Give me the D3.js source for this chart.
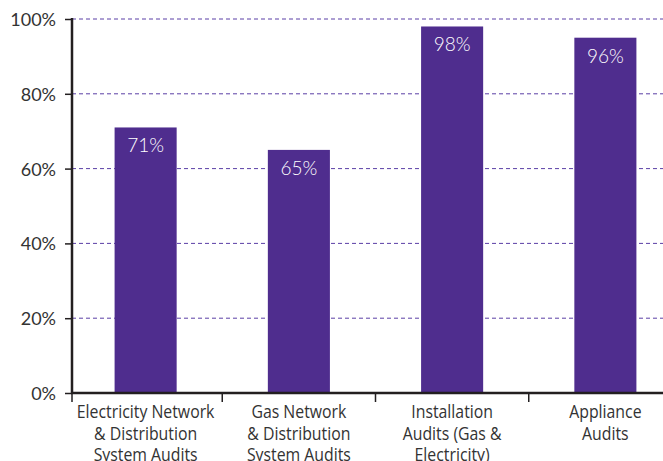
<!DOCTYPE html>
<html>
<head>
<meta charset="utf-8">
<script src="https://cdn.jsdelivr.net/npm/d3@7"></script>
<style>
  body { margin: 0; background: #fff; }
  svg { display: block; }
</style>
</head>
<body>
<div id="chart"></div>
<script>
// data
var categories = [
  ["Electricity Network", "& Distribution", "System Audits"],
  ["Gas Network", "& Distribution", "System Audits"],
  ["Installation", "Audits (Gas &", "Electricity)"],
  ["Appliance", "Audits"]
];
var values = [71, 65, 98, 95];
var valueLabels = ["71%", "65%", "98%", "96%"];
var yTicks = [0, 20, 40, 60, 80, 100];

var W = 663, H = 461;
var axisX = 72, baseY = 393, topY = 19;

var svg = d3.select("#chart").append("svg")
  .attr("width", W)
  .attr("height", H);

var x = d3.scaleBand()
  .domain(d3.range(categories.length))
  .range([69, 682])
  .paddingInner(0.595)
  .paddingOuter(0.2975);

var y = d3.scaleLinear()
  .domain([0, 100])
  .range([baseY, topY]);

// gridlines
svg.append("g")
  .selectAll("line")
  .data(yTicks.filter(d => d > 0))
  .enter().append("line")
    .attr("x1", axisX)
    .attr("x2", W)
    .attr("y1", d => y(d))
    .attr("y2", d => y(d))
    .attr("stroke", "#5b3fa6")
    .attr("stroke-width", 1)
    .attr("stroke-dasharray", "4,3");

// bars
svg.append("g")
  .selectAll("rect")
  .data(values)
  .enter().append("rect")
    .attr("x", (d, i) => x(i))
    .attr("y", d => y(d))
    .attr("width", x.bandwidth())
    .attr("height", d => baseY - y(d))
    .attr("fill", "#4f2d8e");

// value labels
svg.append("g")
  .selectAll("text")
  .data(values)
  .enter().append("text")
    .attr("x", (d, i) => x(i) + x.bandwidth() / 2)
    .attr("y", d => y(d) + 25)
    .attr("text-anchor", "middle")
    .attr("fill", "#fff")
    .style("font-family", "Lato, sans-serif")
    .style("font-weight", 300)
    .style("font-size", "19px")
    .text((d, i) => valueLabels[i]);

// y axis
var yAxis = svg.append("g")
  .attr("transform", "translate(" + axisX + ",0)")
  .call(d3.axisLeft(y).tickValues(yTicks).tickSize(7).tickSizeOuter(0).tickFormat(d => d + "%"));
yAxis.select(".domain").attr("stroke", "#231f20").attr("stroke-width", 2.5)
  .attr("d", "M0," + (topY - 1) + "V" + (baseY + 1));
yAxis.selectAll(".tick line").attr("stroke", "#231f20").attr("stroke-width", 1.5);
yAxis.selectAll(".tick text")
  .attr("x", -16)
  .attr("dy", "0.36em")
  .attr("fill", "#333")
  .style("font-family", "Lato, sans-serif")
  .style("font-size", "18px");

// x axis line
svg.append("line")
  .attr("x1", axisX - 1)
  .attr("x2", W)
  .attr("y1", baseY)
  .attr("y2", baseY)
  .attr("stroke", "#231f20")
  .attr("stroke-width", 2.5);

// category separators
svg.append("g")
  .selectAll("line")
  .data(d3.range(categories.length))
  .enter().append("line")
    .attr("x1", (d, i) => i === 0 ? axisX : x(i) - x.step() * x.paddingInner() / 2)
    .attr("x2", (d, i) => i === 0 ? axisX : x(i) - x.step() * x.paddingInner() / 2)
    .attr("y1", baseY)
    .attr("y2", baseY + 9)
    .attr("stroke", "#231f20")
    .attr("stroke-width", 1.5);

// category labels (condensed look)
var cat = svg.append("g")
  .selectAll("text")
  .data(categories)
  .enter().append("text")
    .attr("transform", (d, i) => "translate(" + (x(i) + x.bandwidth() / 2) + ",418) scale(0.88,1)")
    .attr("text-anchor", "middle")
    .attr("fill", "#333")
    .style("font-family", "'Liberation Sans Narrow', 'Open Sans', sans-serif")
    .style("font-size", "18px");
cat.selectAll("tspan")
  .data(d => d)
  .enter().append("tspan")
    .attr("x", 0)
    .attr("dy", (d, i) => i === 0 ? 0 : 21.7)
    .text(d => d);
</script>
</body>
</html>
